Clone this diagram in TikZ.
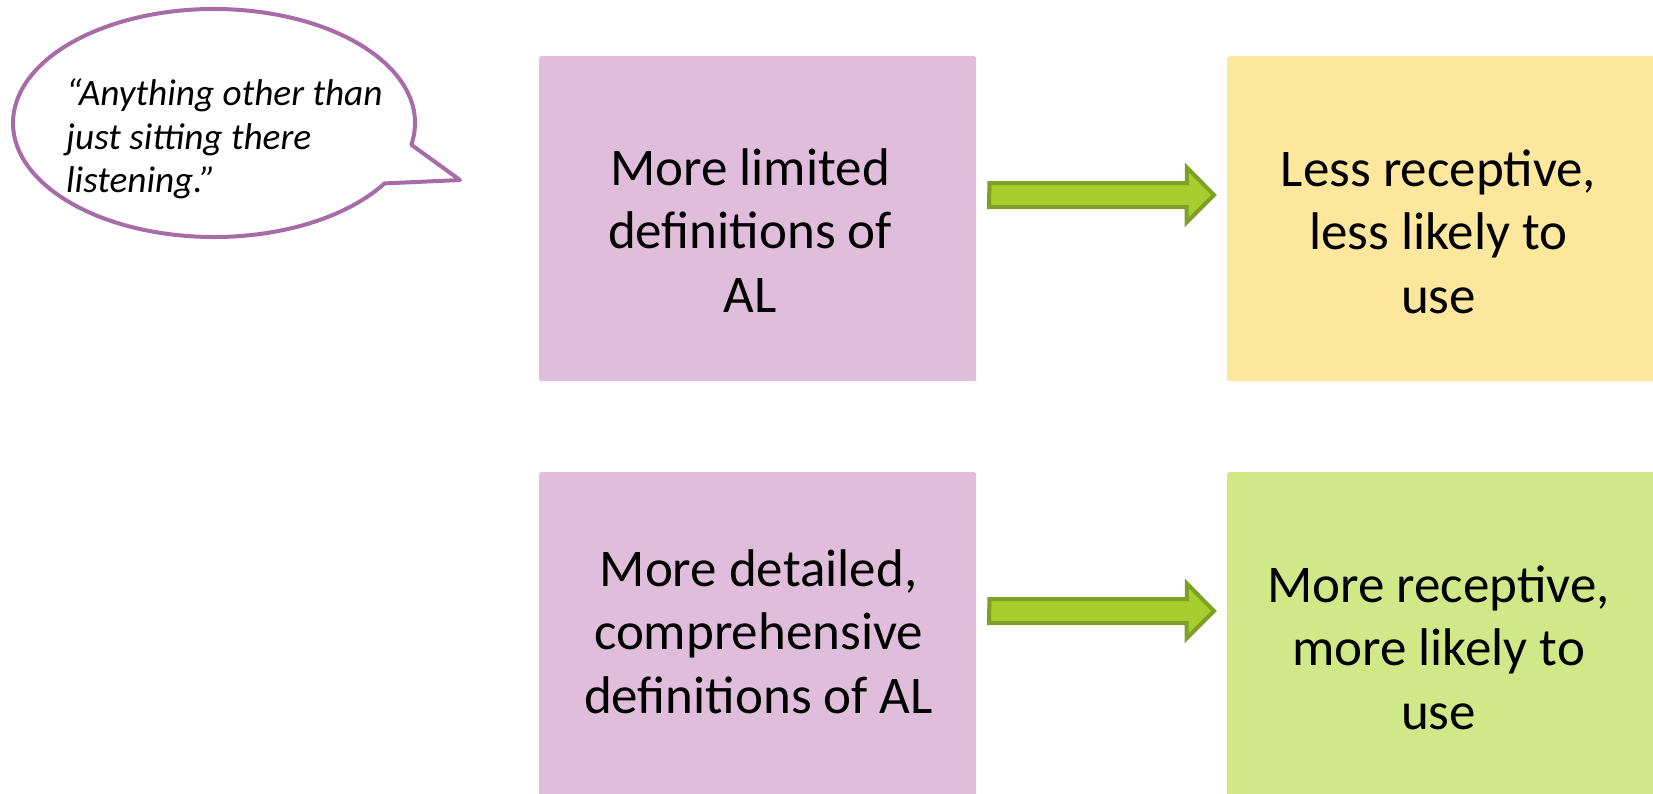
\documentclass[tikz,border=0pt]{standalone}
\usepackage{fontspec}
\setmainfont{Carlito}
\usetikzlibrary{calc}
\definecolor{boxpurple}{RGB}{223,189,219}
\definecolor{boxyellow}{RGB}{253,231,157}
\definecolor{boxgreen}{RGB}{208,232,135}
\definecolor{arrowfill}{RGB}{166,206,47}
\definecolor{arrowedge}{RGB}{126,160,38}
\definecolor{bubbleedge}{RGB}{167,107,168}
\begin{document}
\begin{tikzpicture}[x=1pt,y=-1pt,
  card/.style={rectangle, rounded corners=2pt, draw=none, minimum width=437pt, minimum height=340pt, anchor=north west, inner sep=0pt},
  cardtext/.style={align=center, anchor=north, inner sep=0pt, font=\fontsize{53}{63.5}\selectfont},
  quotetext/.style={align=left, anchor=north west, inner sep=0pt, font=\fontsize{37.3}{43.5}\selectfont\itshape},
  blockarrow/.style={fill=arrowfill, draw=arrowedge, line width=4pt, line join=miter},
  bubble/.style={draw=bubbleedge, line width=4pt, fill=white, line join=round}]
\useasboundingbox (0,0) rectangle (1653,793);
\clip (0,0) rectangle (1653,793);
\fill[white] (0,0) rectangle (1653,793);

% boxes
\node[card, fill=boxpurple, minimum height=325pt] (p1) at (539,56) {};
\node[card, fill=boxyellow, minimum height=325pt] (y1) at (1227,56) {};
\node[card, fill=boxpurple] (p2) at (539,472) {};
\node[card, fill=boxgreen] (g2) at (1227,472) {};

% texts
\node[cardtext] (t1) at (750,140.5) {\strut More limited\\definitions of\\AL};
\node[cardtext] (t3) at (1438.5,141.5) {\strut Less receptive,\\less likely to\\use};
\node[cardtext] (t2) at (758.5,541.5) {\strut More detailed,\\comprehensive\\definitions of AL};
\node[cardtext] (t4) at (1438.5,557.5) {\strut More receptive,\\more likely to\\use};

% arrows
\coordinate (a1) at ([xshift=13pt,yshift=-139pt]p1.north east);
\coordinate (b1) at ([xshift=-13pt,yshift=-139pt]y1.north west);
\coordinate (a2) at ([xshift=13pt,yshift=-139pt]p2.north east);
\coordinate (b2) at ([xshift=-13pt,yshift=-139pt]g2.north west);
\draw[blockarrow] (a1) ++(0,-12) -- ++(197.5,0) -- ++(0,-15.5) -- (b1) -- ++(-27.5,27.5) -- ++(0,-15.5) -- ++(-197.5,0) -- cycle;
\draw[blockarrow] (a2) ++(0,-12) -- ++(197.5,0) -- ++(0,-15.5) -- (b2) -- ++(-27.5,27.5) -- ++(0,-15.5) -- ++(-197.5,0) -- cycle;

% speech bubble
\coordinate (bc) at (214,123);
\coordinate (tail) at (460,180);
\draw[bubble] ($(bc)+(-11:201pt and 114pt)$) arc[start angle=-11, end angle=328, x radius=201pt, y radius=114pt] -- (tail) -- cycle;
\node[quotetext] (q) at (66,75) {\strut “Anything other than\\just sitting there\\listening.”};
\end{tikzpicture}
\end{document}
